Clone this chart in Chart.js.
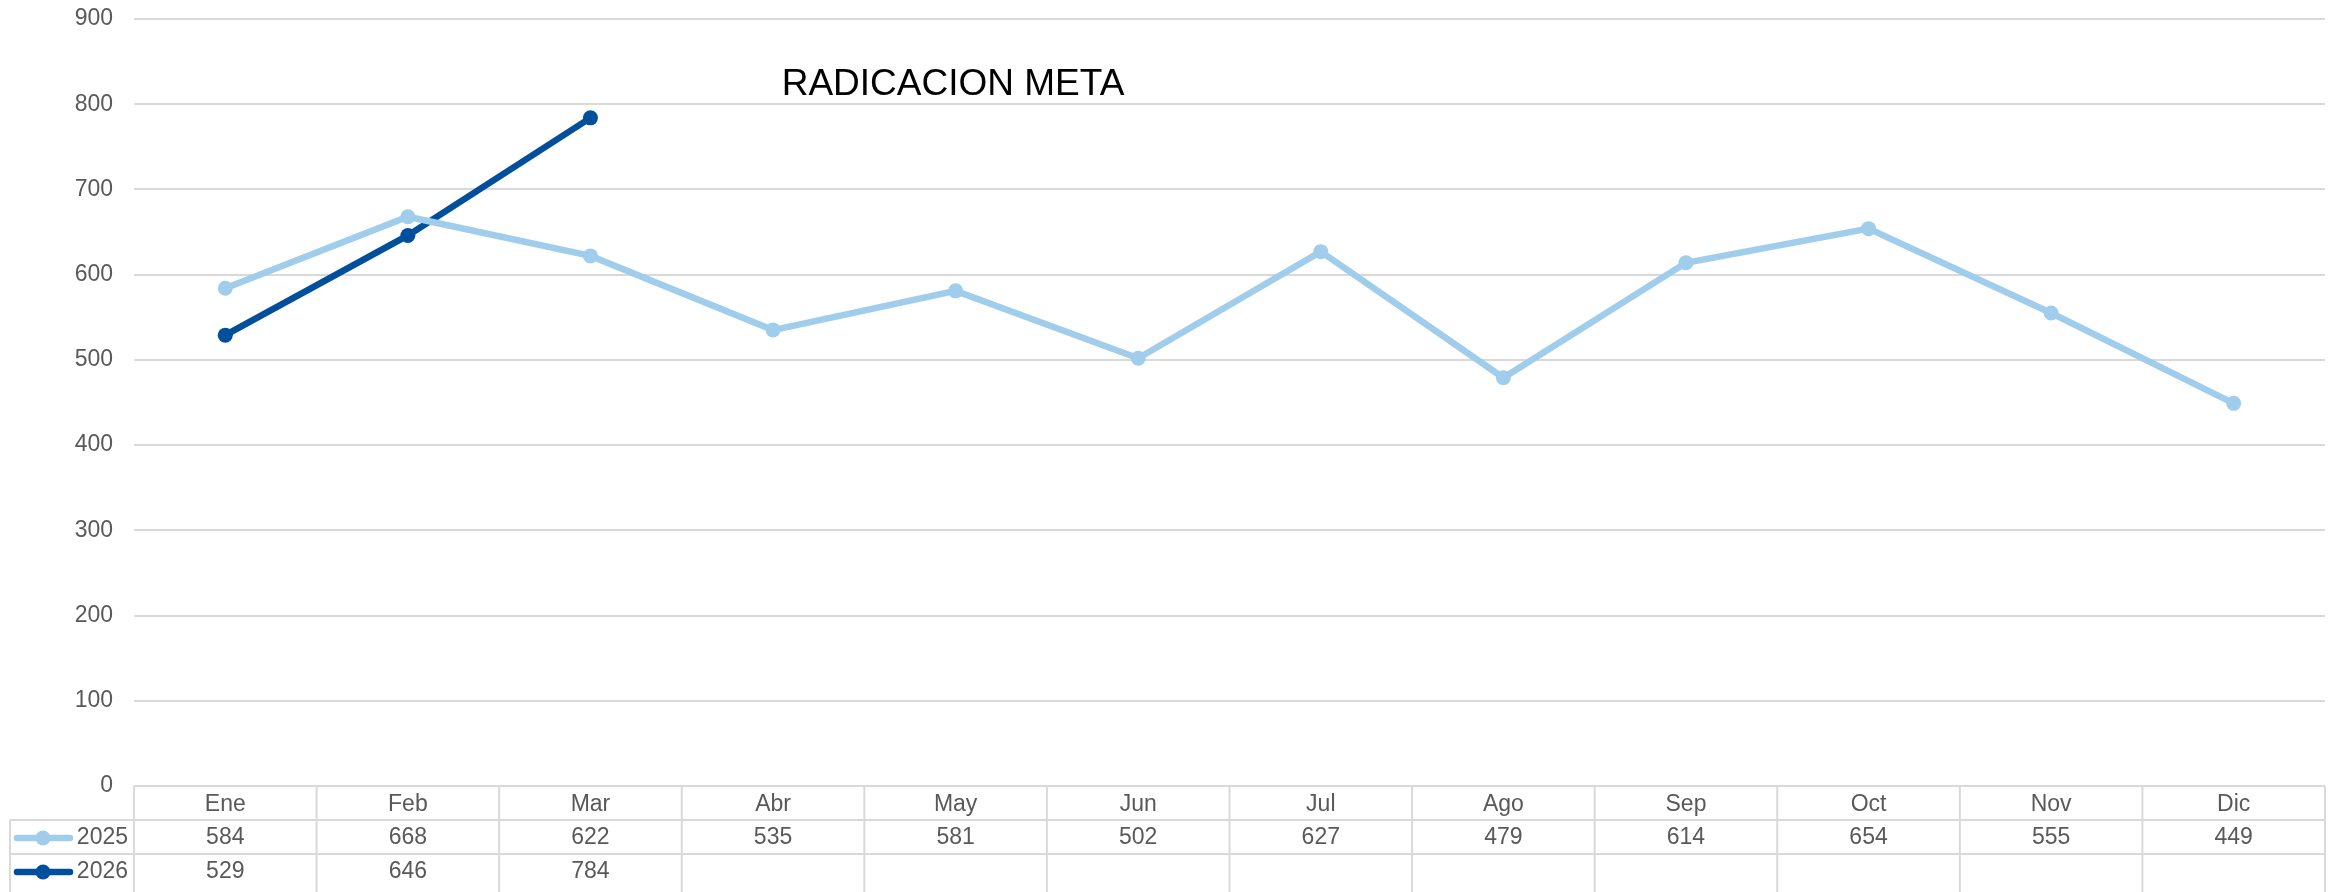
<!DOCTYPE html>
<html>
<head>
<meta charset="utf-8">
<script src="https://cdn.jsdelivr.net/npm/chart.js@4/dist/chart.umd.min.js"></script>
<style>
  body { margin: 0; background: #fff; }
  canvas { display: block; }
</style>
</head>
<body>
<canvas id="myChart" width="2341" height="892"></canvas>
<script>
//chart data
const months = ['Ene', 'Feb', 'Mar', 'Abr', 'May', 'Jun', 'Jul', 'Ago', 'Sep', 'Oct', 'Nov', 'Dic'];
const seriesNames = ['2025', '2026'];
const values2025 = [584, 668, 622, 535, 581, 502, 627, 479, 614, 654, 555, 449];
const values2026 = [529, 646, 784, null, null, null, null, null, null, null, null, null];
const yMin = 0, yMax = 900, yStep = 100;
const chartTitle = 'RADICACION META';

const FONT = "'Liberation Sans', Arial, sans-serif";
const GRID = '#d9d9d9';
const TXT = '#595959';

//draws the title and the data table under the plot
const tablePlugin = {
  id: 'dataTable',
  afterDraw(chart) {
    const ctx = chart.ctx;
    const xs = chart.scales.x;
    const area = chart.chartArea;
    const colW = xs.getPixelForValue(1) - xs.getPixelForValue(0);
    const rowH = 34;
    const top = area.bottom;
    const legendLeft = 10;
    const bottom = chart.height;

    ctx.save();
    // title
    ctx.fillStyle = '#000';
    ctx.font = '37px ' + FONT;
    ctx.textAlign = 'center';
    ctx.textBaseline = 'alphabetic';
    ctx.fillText(chartTitle, 953, 95);

    // table lines
    ctx.strokeStyle = GRID;
    ctx.lineWidth = 2;
    ctx.beginPath();
    for (let r = 1; r <= chart.data.datasets.length; r++) {
      ctx.moveTo(legendLeft, top + r * rowH);
      ctx.lineTo(area.right, top + r * rowH);
    }
    for (let c = 0; c <= months.length; c++) {
      const x = area.left + c * colW;
      ctx.moveTo(x, top);
      ctx.lineTo(x, bottom);
    }
    ctx.moveTo(legendLeft, top + rowH);
    ctx.lineTo(legendLeft, bottom);
    ctx.stroke();

    // rows
    ctx.font = '23px ' + FONT;
    ctx.textBaseline = 'middle';
    chart.data.datasets.forEach((ds, i) => {
      const cy = top + rowH * (i + 1) + rowH / 2 + 1;
      // legend key
      ctx.strokeStyle = ds.borderColor;
      ctx.lineWidth = 6.5;
      ctx.lineCap = 'round';
      ctx.beginPath();
      ctx.moveTo(17, cy);
      ctx.lineTo(70, cy);
      ctx.stroke();
      ctx.fillStyle = ds.borderColor;
      ctx.beginPath();
      ctx.arc(43, cy, 7.5, 0, Math.PI * 2);
      ctx.fill();
      ctx.fillStyle = TXT;
      ctx.textAlign = 'right';
      ctx.fillText(ds.label, area.left - 6, cy);
      // values
      ctx.textAlign = 'center';
      ds.data.forEach((v, j) => {
        if (v === null) return;
        ctx.fillText(String(v), xs.getPixelForValue(j), cy);
      });
    });
    ctx.restore();
  }
};

const chart_data = {
  labels: months,
  datasets: [{
    label: seriesNames[0],
    data: values2025,
    borderColor: '#9fcdeb',
    backgroundColor: '#9fcdeb',
    borderWidth: 6.5,
    pointRadius: 7.5,
    pointHoverRadius: 7.5,
    pointBorderWidth: 0,
    tension: 0
  }, {
    label: seriesNames[1],
    data: values2026,
    borderColor: '#004f9c',
    backgroundColor: '#004f9c',
    borderWidth: 6.5,
    pointRadius: 7.5,
    pointHoverRadius: 7.5,
    pointBorderWidth: 0,
    tension: 0
  }]
};

const ctx = document.getElementById('myChart').getContext('2d');
const myChart = new Chart(ctx, {
  type: 'line',
  data: chart_data,
  plugins: [tablePlugin],
  options: {
    responsive: false,
    animation: false,
    layout: { autoPadding: false, padding: { top: 19, right: 16, left: 0, bottom: 0 } },
    plugins: {
      legend: { display: false },
      title: { display: false },
      tooltip: { enabled: false }
    },
    scales: {
      x: {
        offset: true,
        grid: { display: false },
        border: { display: false },
        ticks: {
          color: TXT,
          padding: -3,
          maxRotation: 0,
          autoSkip: false,
          font: { family: FONT, size: 23 }
        },
        afterFit(scale) { scale.height = 106; }
      },
      y: {
        min: yMin,
        max: yMax,
        grid: { color: GRID, lineWidth: 2, drawTicks: false },
        border: { display: false },
        ticks: {
          stepSize: yStep,
          color: TXT,
          padding: 21,
          font: { family: FONT, size: 23 }
        },
        afterFit(scale) {
          scale.width = 134;
          // tick padding should not push the plot down
          scale.paddingTop = 0;
          scale.paddingBottom = 0;
        }
      }
    }
  }
});
</script>
</body>
</html>
